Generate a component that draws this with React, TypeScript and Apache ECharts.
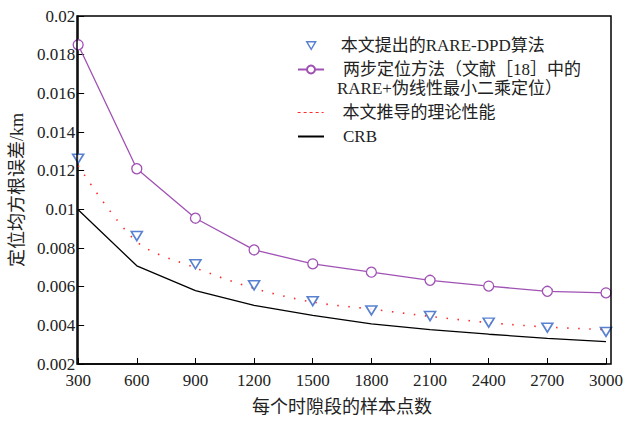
import React, { useEffect, useRef } from "react";
import * as echarts from "echarts";

const samples = [300, 600, 900, 1200, 1500, 1800, 2100, 2400, 2700, 3000];
const proposed = [0.01262, 0.00862, 0.00716, 0.00607, 0.00525, 0.00477, 0.00448, 0.00414, 0.00388, 0.00366];
const twoStep = [0.01851, 0.0121, 0.00954, 0.0079, 0.00718, 0.00675, 0.00633, 0.00603, 0.00576, 0.00568];
const theory = [0.01226, 0.00832, 0.00697, 0.00591, 0.0052, 0.00484, 0.00446, 0.00414, 0.00391, 0.00378];
const crb = [0.00998, 0.00708, 0.0058, 0.00503, 0.00451, 0.00408, 0.00378, 0.00354, 0.00333, 0.00316];

const names = [
  "本文提出的RARE-DPD算法",
  "两步定位方法（文献［18］中的",
  "本文推导的理论性能",
  "CRB",
];
const name2Line2 = "RARE+伪线性最小二乘定位）";

const FONT = "'Times New Roman', 'Liberation Serif', 'Noto Sans CJK SC', serif";
const BLUE = "#2f62c4";
const PURPLE = "#a052b4";
const RED = "#ff2a2a";
const TRI = "path://M0,0 L10,0 L5,8.5 Z";

const pair = (ys: number[]) => samples.map((x, i) => [x, ys[i]]);

export default function App() {
  const ref = useRef<HTMLDivElement>(null);
  useEffect(() => {
    if (!ref.current) return;
    const chart = echarts.init(ref.current, null, { renderer: "svg" });
    const legendBase = {
      orient: "vertical" as const,
      padding: 0,
      itemWidth: 26,
      itemHeight: 12,
      textStyle: { fontFamily: FONT, fontSize: 17, color: "#222", padding: [0, 0, 0, 14] },
      selectedMode: false,
    };
    chart.setOption({
      animation: false,
      backgroundColor: "#fff",
      grid: { left: 77, right: 15, top: 16, bottom: 57, show: false },
      xAxis: {
        type: "value",
        min: 300,
        max: 3000,
        interval: 300,
        name: "每个时隙段的样本点数",
        nameLocation: "middle",
        nameGap: 34,
        nameTextStyle: { fontFamily: FONT, fontSize: 18, color: "#222" },
        axisLine: { show: true, onZero: false, lineStyle: { color: "#000", width: 1.5 } },
        axisTick: { show: true, inside: true, length: 6, lineStyle: { color: "#000" } },
        axisLabel: { fontFamily: FONT, fontSize: 17, color: "#222", margin: 8, formatter: (v: number) => String(v) },
        splitLine: { show: false },
      },
      yAxis: {
        type: "value",
        min: 0.002,
        max: 0.02,
        interval: 0.002,
        name: "定位均方根误差/km",
        nameLocation: "middle",
        nameGap: 50,
        nameTextStyle: { fontFamily: FONT, fontSize: 18, color: "#222" },
        axisLine: { show: true, onZero: false, lineStyle: { color: "#000", width: 1.5 } },
        axisTick: { show: true, inside: true, length: 6, lineStyle: { color: "#000" } },
        axisLabel: {
          fontFamily: FONT,
          fontSize: 17,
          color: "#222",
          margin: 3,
          formatter: (v: number) => String(parseFloat(v.toFixed(3))),
        },
        splitLine: { show: false },
      },
      legend: [
        {
          ...legendBase,
          left: 306,
          top: 37,
          itemWidth: 9,
          itemHeight: 8,
          textStyle: { ...legendBase.textStyle, padding: [0, 0, 0, 20] },
          data: [{ name: names[0], icon: TRI, itemStyle: { color: "#fff", borderColor: BLUE, borderWidth: 1.4 } }],
        },
        { ...legendBase, left: 297, top: 61, itemHeight: 10, data: [names[1]] },
        {
          ...legendBase,
          left: 297,
          top: 104,
          data: [{ name: names[2], itemStyle: { opacity: 0 }, lineStyle: { type: [3, 3], width: 1.2, color: RED } }],
        },
        {
          ...legendBase,
          left: 297,
          top: 128,
          data: [{ name: names[3], itemStyle: { opacity: 0 } }],
        },
      ],
      graphic: [
        {
          type: "rect",
          shape: { x: 77, y: 16, width: 534, height: 348 },
          style: { fill: "none", stroke: "#000", lineWidth: 1.5 },
          silent: true,
          z: 10,
        },
        {
          type: "text",
          left: 337,
          top: 80,
          style: { text: name2Line2, font: `17px ${FONT}`, fill: "#222" },
        },
      ],
      series: [
        {
          name: names[3],
          type: "line",
          data: pair(crb),
          symbol: "none",
          lineStyle: { color: "#000", width: 1.3 },
          itemStyle: { color: "#000" },
          z: 2,
        },
        {
          name: names[2],
          type: "line",
          data: pair(theory),
          symbol: "none",
          smooth: 0.3,
          lineStyle: { color: RED, width: 1.6, type: [1.5, 9.5] },
          itemStyle: { color: RED },
          z: 3,
        },
        {
          name: names[1],
          type: "line",
          data: pair(twoStep),
          symbol: "circle",
          symbolSize: 10,
          lineStyle: { color: PURPLE, width: 1.3 },
          itemStyle: { color: "#fff", borderColor: PURPLE, borderWidth: 1.3 },
          z: 4,
        },
        {
          name: names[0],
          type: "scatter",
          data: pair(proposed),
          symbol: TRI,
          symbolSize: [11, 9],
          itemStyle: { color: "#fff", borderColor: BLUE, borderWidth: 1.6 },
          z: 5,
        },
      ],
    });
    return () => chart.dispose();
  }, []);
  return (
    <div
      ref={ref}
      style={{ position: "fixed", left: 0, top: 0, width: 626, height: 421, background: "#fff" }}
    />
  );
}
